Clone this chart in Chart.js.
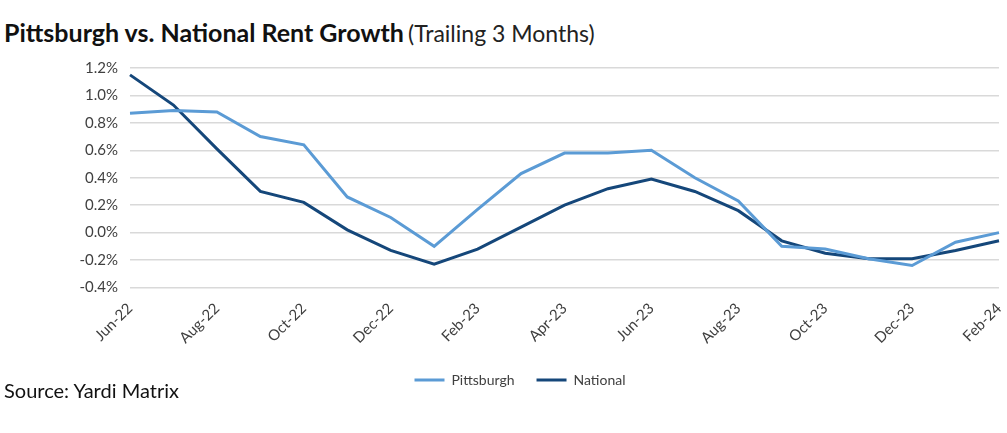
<!DOCTYPE html>
<html>
<head>
<meta charset="utf-8">
<script src="https://cdn.jsdelivr.net/npm/chart.js@4"></script>
<style>
  body { margin:0; background:#fff; width:1007px; height:433px; position:relative; overflow:hidden; font-family:Lato, sans-serif; }
  #title { position:absolute; left:4px; top:17px; color:#111; white-space:nowrap; }
  #title b { font-weight:700; font-size:25px; }
  #title span { font-weight:400; font-size:23px; color:#222; }
  #wrap { position:absolute; left:41px; top:47px; width:966px; height:350px; }
  #source { position:absolute; left:4px; top:378px; font-size:20px; color:#111; }
</style>
</head>
<body>
<div id="title"><b>Pittsburgh vs. National Rent Growth</b> <span>(Trailing 3 Months)</span></div>
<div id="wrap"><canvas id="myChart"></canvas></div>
<div id="source">Source: Yardi Matrix</div>
<script>
const months = ['Jun-22','Jul-22','Aug-22','Sep-22','Oct-22','Nov-22','Dec-22','Jan-23','Feb-23','Mar-23','Apr-23',
  'May-23','Jun-23','Jul-23','Aug-23','Sep-23','Oct-23','Nov-23','Dec-23','Jan-24','Feb-24'];
const pittsburgh = [0.87,0.89,0.88,0.70,0.64,0.26,0.11,-0.10,0.17,0.43,0.58,0.58,0.60,0.40,0.23,-0.10,-0.12,-0.19,-0.24,-0.07,0.00];
const national = [1.15,0.93,0.61,0.30,0.22,0.02,-0.13,-0.23,-0.12,0.04,0.20,0.32,0.39,0.30,0.16,-0.06,-0.15,-0.19,-0.19,-0.13,-0.06];
const yTicks = [-0.4,-0.2,0,0.2,0.4,0.6,0.8,1.0,1.2];

const lightBlue = '#5b9bd5';
const darkBlue = '#15477a';

var ctx = document.getElementById('myChart').getContext('2d');
let myChart = new Chart(ctx, {
  type: 'line',
  data: {
    labels: months,
    datasets: [{
      label: 'Pittsburgh',
      data: pittsburgh,
      borderColor: lightBlue,
      backgroundColor: lightBlue,
      borderWidth: 3,
      pointRadius: 0,
      fill: false,
      tension: 0
    }, {
      label: 'National',
      data: national,
      borderColor: darkBlue,
      backgroundColor: darkBlue,
      borderWidth: 3,
      pointRadius: 0,
      fill: false,
      tension: 0
    }]
  },
  options: {
    responsive: true,
    maintainAspectRatio: false,
    animation: false,
    layout: { padding: { top: 10, right: 8, left: 0, bottom: 0 } },
    plugins: {
      legend: {
        position: 'bottom',
        labels: {
          boxWidth: 30,
          boxHeight: 3,
          padding: 22,
          color: '#404040',
          font: { family: 'Lato', size: 14 },
          generateLabels: function (chart) {
            return Chart.defaults.plugins.legend.labels.generateLabels(chart).map(function (l) {
              l.lineWidth = 0;
              return l;
            });
          }
        }
      },
      tooltip: { enabled: false }
    },
    scales: {
      x: {
        offset: false,
        grid: { display: false },
        border: { display: false },
        afterFit: function (axis) { axis.paddingRight = 0; axis.paddingLeft = 0; },
        ticks: {
          autoSkip: false,
          maxRotation: 45,
          minRotation: 45,
          color: '#404040',
          padding: 4,
          font: { family: 'Lato', size: 15 },
          callback: function (val, i) { return i % 2 === 0 ? months[i] : ''; }
        }
      },
      y: {
        min: -0.4,
        max: 1.2,
        afterBuildTicks: function (axis) { axis.ticks = yTicks.map(v => ({ value: v })); },
        afterFit: function (axis) { axis.width = 89; },
        grid: { color: '#d9d9d9', lineWidth: 1.5, drawTicks: false },
        border: { display: false },
        ticks: {
          color: '#404040',
          padding: 12,
          font: { family: 'Lato', size: 15 },
          callback: function (v) { return v.toFixed(1) + '%'; }
        }
      }
    }
  }
});
</script>
</body>
</html>
